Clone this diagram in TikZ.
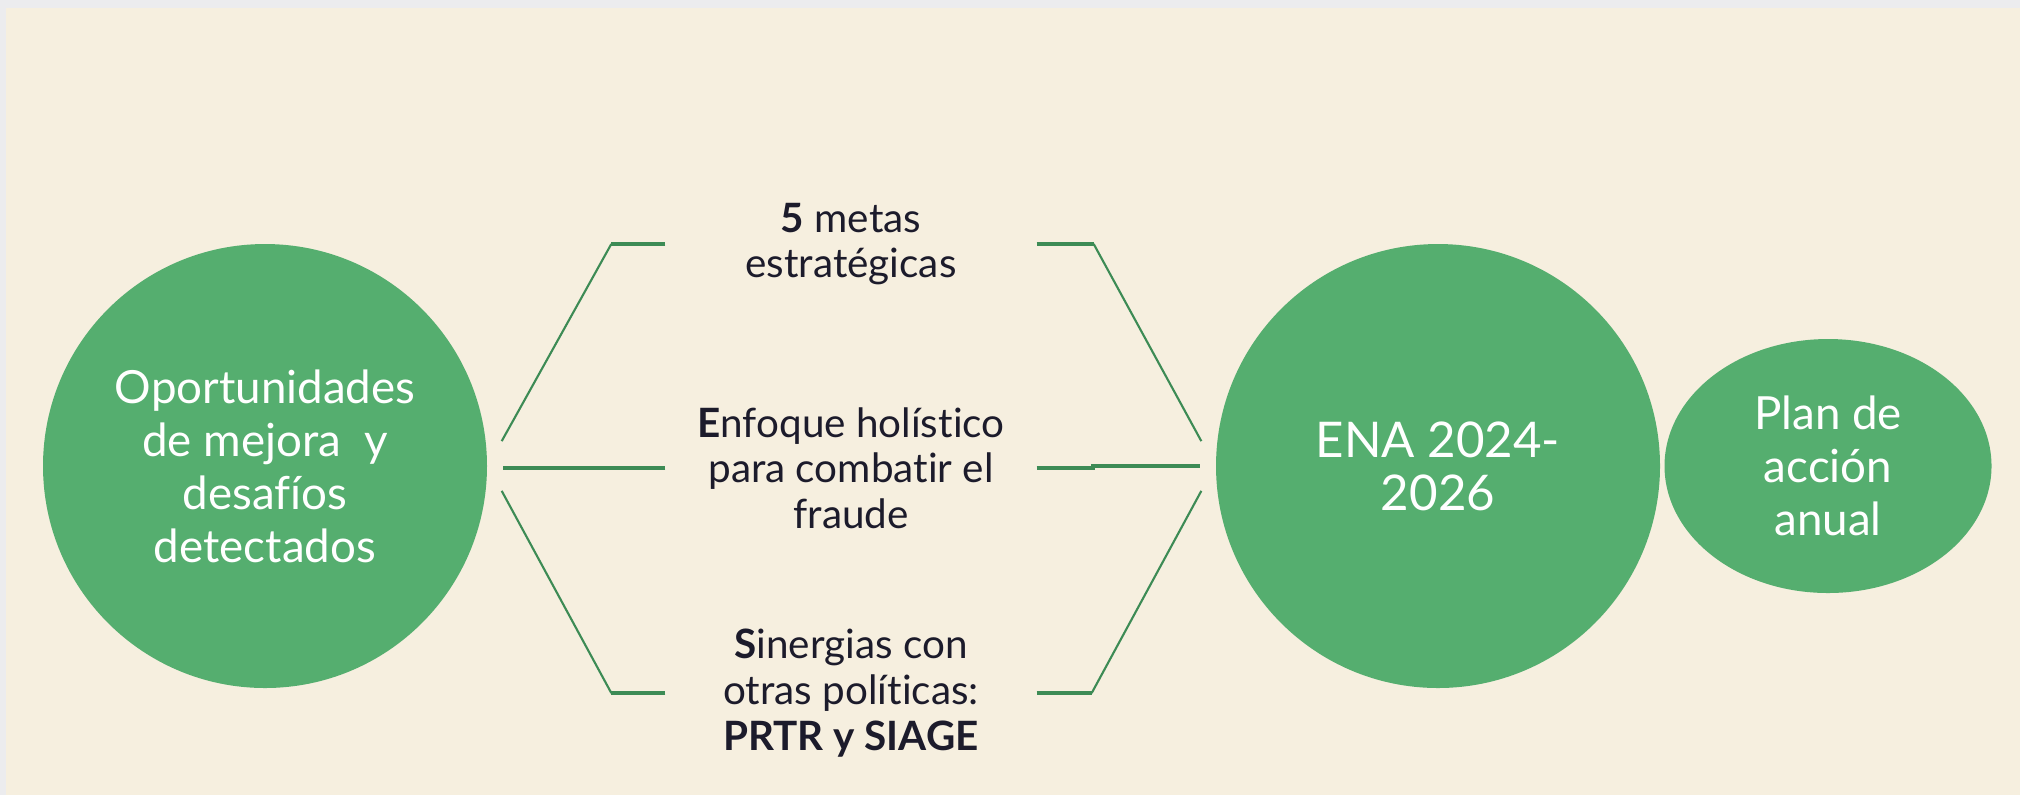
\documentclass[tikz,border=0pt]{standalone}
\usepackage{fontspec}
\setmainfont{Lato}[Ligatures=NoCommon]
\usetikzlibrary{shapes.geometric}
\definecolor{paper}{HTML}{ECECEE}
\definecolor{cream}{HTML}{F6EFDF}
\definecolor{leaf}{HTML}{55AE6F}
\definecolor{stem}{HTML}{3D8B55}
\definecolor{ink}{HTML}{1C1B2B}

\begin{document}
\begin{tikzpicture}[x=0.1mm,y=-0.1mm]
\tikzstyle{bubble} = [circle, fill=leaf, text=white, align=center, inner sep=0pt, minimum size=4.44cm, outer sep=1.6mm, font=\fontsize{13}{15.1}\selectfont]
\tikzstyle{goal} = [align=center, text=ink, inner sep=0pt, minimum width=3.7cm, font=\fontsize{11.5}{13}\selectfont]
\tikzstyle{stub} = [draw=stem, line width=1.1pt]
\tikzstyle{edge} = [draw=stem, line width=0.6pt]

\useasboundingbox (0,0) rectangle (2020,795);
\fill[paper] (0,0) rectangle (2020,795);
\fill[cream] (6,8) rectangle (2020,795);

\node[bubble] (opp) at (265,466) {Oportunidades\\de mejora~ y\\desafíos\\detectados};
\node[bubble, font=\fontsize{14}{15.1}\selectfont] (ena) at (1438,466) {ENA 2024-\\2026};
\node[ellipse, fill=leaf, text=white, align=center, inner sep=0pt, minimum width=3.27cm, minimum height=2.54cm, font=\fontsize{13}{15.1}\selectfont] (plan) at (1828,466) {Plan de\\acción\\anual};

\node[goal] (metas) at (851,244) {\textbf{5} metas\\estratégicas};
\node[goal] (enf) at (851,468) {\textbf{E}nfoque holístico\\para combatir el\\fraude};
\node[goal] (sin) at (851,693) {\textbf{S}inergias con\\otras políticas:\\\textbf{PRTR y SIAGE}};

% left side
\draw[stub] (metas.west) -- ++(-54,0) coordinate (m1);
\draw[edge] (m1) -- (opp.6);
\draw[stub] (enf.west) -- (enf.west -| opp.east);
\draw[stub] (sin.west) -- ++(-54,0) coordinate (s1);
\draw[edge] (s1) -- (opp.-6);

% right side
\draw[stub] (metas.east) -- ++(57,0) coordinate (m2);
\draw[edge] (m2) -- (ena.174);
\draw[stub] (enf.east) -- ++(56,0) |- (ena.west);
\draw[stub] (sin.east) -- ++(55,0) coordinate (s2);
\draw[edge] (s2) -- (ena.186);
\end{tikzpicture}
\end{document}
